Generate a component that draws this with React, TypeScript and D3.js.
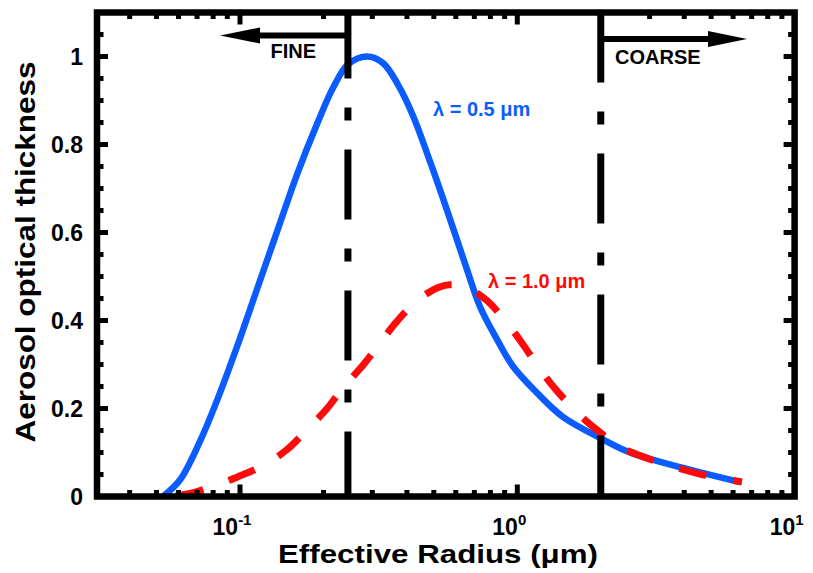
import * as d3 from "d3";

// blue: lambda = 0.5 um
const blueRadius = [0.0528, 0.0608, 0.0718, 0.0826, 0.0975, 0.115, 0.136, 0.161, 0.19, 0.217, 0.245, 0.287, 0.328, 0.372, 0.421, 0.484, 0.557, 0.659, 0.733, 0.845, 0.964, 1.18, 1.46, 1.99, 2.55, 3.86, 6.35];
const blueAOT = [0.0, 0.038, 0.126, 0.218, 0.34, 0.47, 0.602, 0.734, 0.848, 0.93, 0.982, 1.0, 0.985, 0.935, 0.865, 0.762, 0.652, 0.515, 0.432, 0.357, 0.296, 0.235, 0.181, 0.133, 0.1, 0.067, 0.033];

// red: lambda = 1.0 um
const redRadius = [0.056, 0.066, 0.0786, 0.0975, 0.121, 0.148, 0.172, 0.206, 0.235, 0.278, 0.32, 0.368, 0.435, 0.518, 0.582, 0.659, 0.778, 0.918, 1.05, 1.21, 1.39, 1.68, 1.94, 2.34, 2.94, 3.64, 4.56, 6.46];
const redAOT = [0.0, 0.007, 0.022, 0.044, 0.07, 0.107, 0.148, 0.2, 0.247, 0.299, 0.349, 0.398, 0.445, 0.475, 0.482, 0.475, 0.445, 0.394, 0.345, 0.288, 0.24, 0.185, 0.151, 0.113, 0.087, 0.068, 0.051, 0.033];

const yTickValues = [0, 0.2, 0.4, 0.6, 0.8, 1];
const yTickLabels = ["0", "0.2", "0.4", "0.6", "0.8", "1"];
const xMajorTicks = [0.1, 1, 10];
const xTickExponents = ["-1", "0", "1"];
const cutoffRadii = [0.245, 2];

const W = 813;
const H = 573;
const box = { left: 97, right: 794.6, top: 12.5, bottom: 496.5 };
const BLUE = "#0a5cff";
const RED = "#ff0a0a";
const FONT = "'Liberation Sans', Arial, Helvetica, sans-serif";

export default function App() {
  const x = d3.scaleLog().domain([0.0305, 10]).range([box.left, box.right]);
  const y = d3.scaleLinear().domain([0, 1.1]).range([box.bottom, box.top]);

  const line = d3
    .line<[number, number]>()
    .x((d) => x(d[0]))
    .y((d) => y(d[1]))
    .curve(d3.curveCatmullRom.alpha(0.5));

  const blue = d3.zip(blueRadius, blueAOT) as [number, number][];
  const red = d3.zip(redRadius, redAOT) as [number, number][];

  const xMinor = x.ticks().filter((t) => !xMajorTicks.some((m) => Math.abs(m - t) < 1e-9));
  const yMinor = y.ticks(22).filter((t) => !yTickValues.some((m) => Math.abs(m - t) < 1e-9));

  const tick = { stroke: "#000", strokeWidth: 5 };

  return (
    <svg width={W} height={H} style={{ position: "absolute", left: 0, top: 0, background: "#fff" }} fontFamily={FONT}>
      {/* curves */}
      <path d={line(blue) ?? ""} fill="none" stroke={BLUE} strokeWidth={6.5} />
      <path d={line(red) ?? ""} fill="none" stroke={RED} strokeWidth={7} strokeDasharray="28 27" strokeDashoffset={-6} />

      {/* cutoff lines */}
      {cutoffRadii.map((r, i) => (
        <line
          key={r}
          x1={x(r)}
          x2={x(r)}
          y1={box.top}
          y2={box.bottom}
          stroke="#000"
          strokeWidth={7}
          strokeDasharray="70 29 13 29"
          strokeDashoffset={i === 0 ? 4 : 0}
        />
      ))}

      {/* arrows */}
      <line x1={x(cutoffRadii[0])} x2={258} y1={35.5} y2={35.5} stroke="#000" strokeWidth={6} />
      <polygon points={`220,35.5 260,27.5 260,43.5`} fill="#000" />
      <text x={316} y={57.5} fontSize={20} fontWeight="bold" textAnchor="end">FINE</text>
      <line x1={x(cutoffRadii[1])} x2={710} y1={39} y2={39} stroke="#000" strokeWidth={6} />
      <polygon points={`747,39 708,31 708,47`} fill="#000" />
      <text x={615} y={64} fontSize={20} fontWeight="bold">COARSE</text>

      {/* curve labels */}
      <text x={433} y={116} fontSize={20} fontWeight="bold" fill={BLUE}>λ = 0.5 μm</text>
      <text x={488} y={288} fontSize={20} fontWeight="bold" fill={RED}>λ = 1.0 μm</text>

      {/* frame */}
      <rect x={box.left} y={box.top} width={box.right - box.left} height={box.bottom - box.top} fill="none" stroke="#000" strokeWidth={6.5} />

      {/* y ticks */}
      {yTickValues.map((v) => (
        <g key={"ym" + v}>
          <line x1={box.left} x2={box.left + 11} y1={y(v)} y2={y(v)} {...tick} />
          <line x1={box.right} x2={box.right - 11} y1={y(v)} y2={y(v)} {...tick} />
        </g>
      ))}
      {yMinor.map((v) => (
        <g key={"yn" + v}>
          <line x1={box.left} x2={box.left + 6.5} y1={y(v)} y2={y(v)} {...tick} />
          <line x1={box.right} x2={box.right - 6.5} y1={y(v)} y2={y(v)} {...tick} />
        </g>
      ))}
      {yTickValues.map((v, i) => (
        <text key={"yl" + v} x={83} y={y(v)} dy="0.36em" fontSize={23} fontWeight="bold" textAnchor="end">
          {yTickLabels[i]}
        </text>
      ))}

      {/* x ticks */}
      {xMajorTicks.map((t) => (
        <g key={"xm" + t}>
          <line x1={x(t)} x2={x(t)} y1={box.bottom} y2={box.bottom - 12} {...tick} />
          <line x1={x(t)} x2={x(t)} y1={box.top} y2={box.top + 12} {...tick} />
        </g>
      ))}
      {xMinor.map((t) => (
        <g key={"xn" + t}>
          <line x1={x(t)} x2={x(t)} y1={box.bottom} y2={box.bottom - 6.5} {...tick} />
          <line x1={x(t)} x2={x(t)} y1={box.top} y2={box.top + 6.5} {...tick} />
        </g>
      ))}
      {xMajorTicks.map((t, i) => (
        <text key={"xl" + t} x={x(t) - 8} y={535} fontSize={23} fontWeight="bold" textAnchor="middle">
          10
          <tspan dy={-10} fontSize={15}>{xTickExponents[i]}</tspan>
        </text>
      ))}

      {/* axis titles */}
      <text x={438} y={563} fontSize={25} fontWeight="bold" textAnchor="middle" textLength={320} lengthAdjust="spacingAndGlyphs">
        Effective Radius (μm)
      </text>
      <text
        transform={`translate(35,252) rotate(-90)`}
        fontSize={28}
        fontWeight="bold"
        textAnchor="middle"
        textLength={381}
        lengthAdjust="spacingAndGlyphs"
      >
        Aerosol optical thickness
      </text>
    </svg>
  );
}
